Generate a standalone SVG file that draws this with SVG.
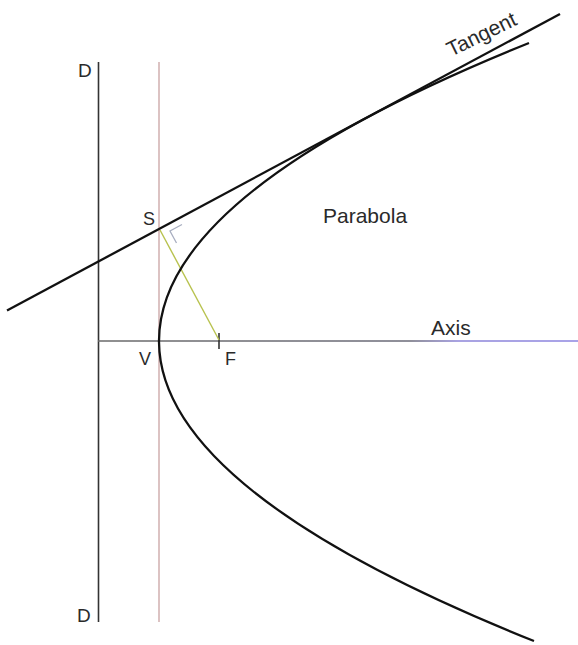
<svg xmlns="http://www.w3.org/2000/svg" width="578" height="645" viewBox="0 0 578 645">
<style>
.lbl{font-family:"Liberation Sans",Arial,sans-serif;fill:#2a2a2a}
.big{font-size:21px}
.sm{font-size:18px}
</style>
<defs>
<linearGradient id="axisGrad" x1="98" y1="0" x2="578" y2="0" gradientUnits="userSpaceOnUse">
<stop offset="0" stop-color="#6a6a6a"/>
<stop offset="0.65" stop-color="#6a6a78"/>
<stop offset="0.75" stop-color="#8c84d8"/>
<stop offset="1" stop-color="#8c84e0"/>
</linearGradient>
</defs>
<rect width="578" height="645" fill="#ffffff"/>
<g id="connectors">
<line id="directrix" x1="98.5" y1="62" x2="98.5" y2="622" stroke="#333" stroke-width="1.6"/>
<line id="vertex-line" x1="159" y1="62" x2="159" y2="622" stroke="#c9a3a3" stroke-width="1.3"/>
<line id="axis" x1="98" y1="341" x2="578" y2="341" stroke="url(#axisGrad)" stroke-width="1.4"/>
<line id="focus-tick" x1="219" y1="333" x2="219" y2="349" stroke="#333" stroke-width="1.6"/>
<line id="normal" x1="160" y1="230" x2="219" y2="340" stroke="#b8c24e" stroke-width="1.4"/>
<polyline id="right-angle" points="182,224.5 170,231 176.5,243" fill="none" stroke="#a8aec0" stroke-width="1.3"/>
<path id="parabola" d="M529,43 Q-213.5,342 534,641" fill="none" stroke="#111" stroke-width="2.3"/>
<line id="tangent" x1="7" y1="310.5" x2="560" y2="14" stroke="#111" stroke-width="2.3"/>
</g>
<g id="label-D-top"><text class="lbl" x="78" y="77" font-size="19px">D</text></g>
<g id="label-D-bottom"><text class="lbl" x="77" y="622" font-size="19px">D</text></g>
<g id="label-S"><text class="lbl sm" x="143" y="225">S</text></g>
<g id="label-V"><text class="lbl sm" x="139" y="365">V</text></g>
<g id="label-F"><text class="lbl sm" x="225" y="365">F</text></g>
<g id="label-parabola"><text class="lbl big" x="323" y="223">Parabola</text></g>
<g id="label-axis"><text class="lbl big" x="431" y="335">Axis</text></g>
<g id="label-tangent"><text class="lbl big" x="451" y="57" transform="rotate(-26 451 57)">Tangent</text></g>
</svg>
